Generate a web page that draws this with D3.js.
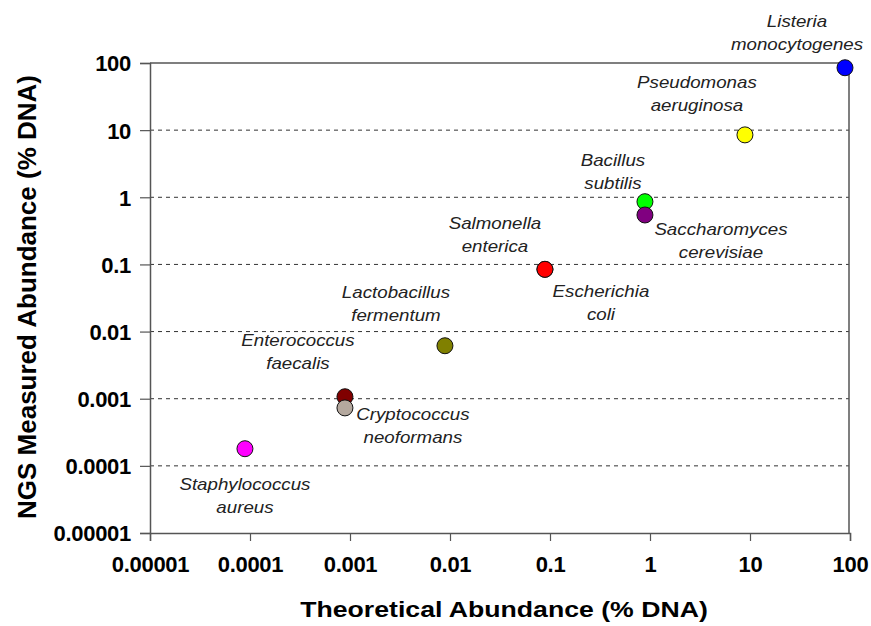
<!DOCTYPE html>
<html>
<head>
<meta charset="utf-8">
<script src="https://cdn.jsdelivr.net/npm/d3@7"></script>
<style>
  body { margin: 0; background: #fff; }
  svg { display: block; font-family: "Liberation Sans", Arial, sans-serif; }
</style>
</head>
<body>
<svg id="chart"></svg>
<script>
// species and values (% DNA)
var species = [
  ["Listeria", "monocytogenes"],
  ["Pseudomonas", "aeruginosa"],
  ["Bacillus", "subtilis"],
  ["Saccharomyces", "cerevisiae"],
  ["Salmonella", "enterica"],
  ["Escherichia", "coli"],
  ["Lactobacillus", "fermentum"],
  ["Enterococcus", "faecalis"],
  ["Cryptococcus", "neoformans"],
  ["Staphylococcus", "aureus"]
];
var theoretical = [89.1, 8.9, 0.89, 0.89, 0.089, 0.089, 0.0089, 0.00089, 0.00089, 0.000089];
var measured = [85, 8.5, 0.86, 0.545, 0.0845, 0.0845, 0.00615, 0.00107, 0.00073, 0.00018];
var colors = ["#0000ff", "#ffff00", "#00ff00", "#800080", "#ff0000", "#ff0000",
              "#808000", "#800000", "#b4a89e", "#ff00ff"];
// label offsets from the point (center x, first baseline y)
var labelOffsets = [[-48, -41], [-48, -47], [-32, -36], [76, 20], [-50, -40], [56, 28],
                    [-49, -48], [-47, -51], [68, 12], [0, 41]];

var tickVals = [0.00001, 0.0001, 0.001, 0.01, 0.1, 1, 10, 100];
var tickLabels = ["0.00001", "0.0001", "0.001", "0.01", "0.1", "1", "10", "100"];

var W = 871, H = 626;
var mLeft = 150, mRight = 850, mTop = 63, mBottom = 533;

var svg = d3.select("#chart").attr("width", W).attr("height", H);

var x = d3.scaleLog().domain([0.00001, 100]).range([mLeft, mRight]);
var y = d3.scaleLog().domain([0.00001, 100]).range([mBottom, mTop]);

var fmt = function(d) { return tickLabels[tickVals.indexOf(d)]; };

// dashed grid
svg.append("g")
  .selectAll("line")
  .data(tickVals.filter(function(d) { return d > 0.00001 && d < 100; }))
  .enter().append("line")
    .attr("x1", mLeft).attr("x2", mRight - 1)
    .attr("y1", function(d) { return y(d); })
    .attr("y2", function(d) { return y(d); })
    .attr("stroke", "#333")
    .attr("stroke-width", 1)
    .attr("stroke-dasharray", "4,4");

// frame top and right
svg.append("path")
  .attr("d", "M" + mLeft + "," + mTop + "H" + (mRight - 1) + "V" + mBottom)
  .attr("fill", "none").attr("stroke", "#555").attr("stroke-width", 1.5);

var xAxis = svg.append("g")
  .attr("transform", "translate(0," + mBottom + ")")
  .call(d3.axisBottom(x).tickValues(tickVals).tickFormat(fmt).tickSize(8));
var yAxis = svg.append("g")
  .attr("transform", "translate(" + mLeft + ",0)")
  .call(d3.axisLeft(y).tickValues(tickVals).tickFormat(fmt).tickSize(10).tickPadding(9));

[xAxis, yAxis].forEach(function(a) {
  a.select(".domain").attr("stroke", "#555").attr("stroke-width", 1.5);
  a.selectAll(".tick line").attr("stroke", "#555").attr("stroke-width", 1.2);
  a.selectAll(".tick text")
    .attr("fill", "#000")
    .style("font-size", "22px")
    .style("font-weight", "bold")
    .style("letter-spacing", "-0.3px")
    .style("font-family", "'Liberation Sans', Arial, sans-serif");
});
xAxis.selectAll(".tick text").attr("y", 39).attr("dy", 0);
yAxis.selectAll(".tick text").attr("dy", "0.36em");

// points
svg.append("g")
  .selectAll("circle")
  .data(species)
  .enter().append("circle")
    .attr("cx", function(d, i) { return x(theoretical[i]); })
    .attr("cy", function(d, i) { return y(measured[i]); })
    .attr("r", 8)
    .attr("fill", function(d, i) { return colors[i]; })
    .attr("stroke", "#111")
    .attr("stroke-width", 1);

// species labels
var labels = svg.append("g")
  .selectAll("g")
  .data(species)
  .enter().append("g")
    .attr("transform", function(d, i) {
      var px = x(theoretical[i]) + labelOffsets[i][0];
      var py = y(measured[i]) + labelOffsets[i][1];
      return "translate(" + px + "," + py + ") scale(1.17,1)";
    });
labels.each(function(d) {
  var g = d3.select(this);
  d.forEach(function(line, k) {
    g.append("text")
      .attr("y", k * 23)
      .attr("text-anchor", "middle")
      .attr("fill", "#222")
      .style("font-size", "16px")
      .style("font-style", "italic")
      .text(line);
  });
});

// axis titles
svg.append("text")
  .attr("transform", "translate(504,617) scale(1.24,1)")
  .attr("text-anchor", "middle")
  .style("font-size", "21.5px")
  .style("font-weight", "bold")
  .text("Theoretical Abundance (% DNA)");

svg.append("text")
  .attr("transform", "translate(36,297) rotate(-90)")
  .attr("text-anchor", "middle")
  .style("font-size", "26px")
  .style("font-weight", "bold")
  .text("NGS Measured Abundance (% DNA)");
</script>
</body>
</html>
